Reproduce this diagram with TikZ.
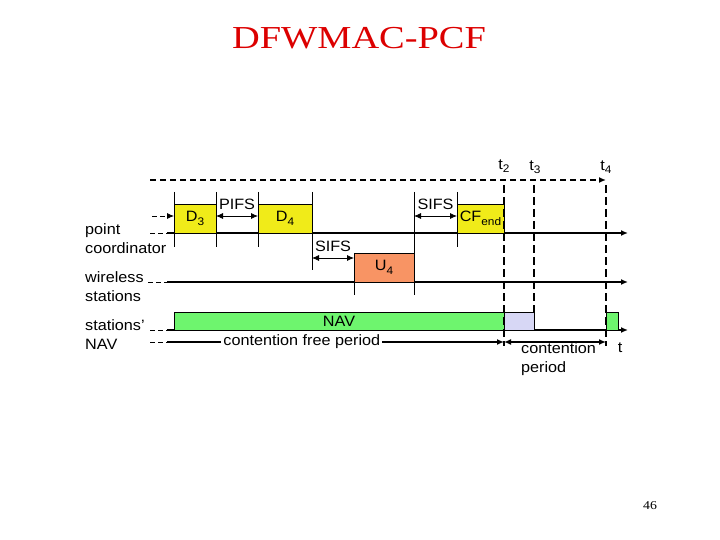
\documentclass[tikz,border=0pt]{standalone}
\usepackage{fontspec}
\setmainfont{Liberation Sans}[FakeStretch=1.08]
\newfontfamily\titlefont{Liberation Serif}[FakeStretch=1.2]
\newfontfamily\pagefont{Liberation Serif}[FakeStretch=1.15]
\usetikzlibrary{arrows.meta}
\definecolor{pcyellow}{RGB}{240,235,25}
\definecolor{pcorange}{RGB}{248,148,100}
\definecolor{pcgreen}{RGB}{110,245,110}
\definecolor{pclav}{RGB}{215,215,245}
\definecolor{pcred}{RGB}{220,0,0}
\newcommand\lowsub[1]{\raisebox{-3.5bp}{\fontsize{11bp}{11bp}\selectfont #1}}
\tikzset{
  timeline/.style={line width=1.8bp},
  tick/.style={line width=0.8bp},
  leader/.style={line width=0.8bp, dash pattern=on 5bp off 3bp},
  instant/.style={line width=1.8bp, dash pattern=on 8bp off 4bp},
  topline/.style={line width=1.6bp, dash pattern=on 6bp off 4bp},
  frame/.style={draw, line width=0.8bp, inner sep=0pt},
  gap/.style={above=6bp, inner sep=0pt}
}
\begin{document}
\begin{tikzpicture}[x=1bp, y=-1bp, >={Latex[length=7bp,width=6bp]},
    font=\fontsize{15bp}{19bp}\selectfont]
  \useasboundingbox (0,0) rectangle (720,540);
  % title and page number
  \node[text=pcred, font=\titlefont\fontsize{32bp}{38bp}\selectfont] (title) at (359,38) {DFWMAC-PCF};
  \node[font=\pagefont\fontsize{12bp}{14bp}\selectfont] (page) at (650,506) {46};

  % row labels
  \node[anchor=west, align=left, inner sep=0pt] (pclbl) at (85,239) {point\\coordinator};
  \node[anchor=west, align=left, inner sep=0pt] (wslbl) at (85,286.5) {wireless\\stations};
  \node[anchor=west, align=left, inner sep=0pt] (navlbl) at (85,335) {stations'\\NAV};

  % time line ends
  \coordinate (topS) at (150,180);
  \coordinate (pcL) at (150,233);
  \coordinate (pcS) at (167,233);
  \coordinate (pcE) at (628,233);
  \coordinate (inL) at (152,216);
  \coordinate (inR) at (174,216);
  \coordinate (wsL) at (148,282);
  \coordinate (wsS) at (167,282);
  \coordinate (wsE) at (628,282);
  \coordinate (navL) at (150,330);
  \coordinate (navS) at (167,330);
  \coordinate (navE) at (628,330);
  \coordinate (cfL) at (150,342);
  \coordinate (cfS) at (167,342);

  % instants t2, t3, t4
  \coordinate (t2top) at (504,185);
  \coordinate (t2bot) at (504,346);
  \coordinate (t3top) at (534,185);
  \coordinate (t3bot) at (534,312);
  \coordinate (t4top) at (606,185);
  \coordinate (t4bot) at (606,346);
  \coordinate (t2cf) at (504,342);
  \coordinate (t4cf) at (606,342);
  \coordinate (t4arr) at (606,180);
  \node (t2) at (504,166) {t\lowsub{2}};
  \node (t3) at (535,167) {t\lowsub{3}};
  \node (t4) at (606,167) {t\lowsub{4}};

  \draw[topline, ->] (topS) -- (t4arr);
  \draw[leader] (pcL) -- (pcS);
  \draw[leader, ->] (inL) -- (inR);
  \draw[leader] (wsL) -- (wsS);
  \draw[leader] (navL) -- (navS);
  \draw[leader] (cfL) -- (cfS);
  \draw[timeline, ->] (pcS) -- (pcE);
  \draw[timeline, ->] (wsS) -- (wsE);
  \draw[timeline, ->] (navS) -- (navE);

  % frames
  \node[frame, fill=pcyellow, minimum width=42bp, minimum height=29bp] (d3) at (195,218.5) {D\lowsub{3}};
  \node[frame, fill=pcyellow, minimum width=54bp, minimum height=29bp] (d4) at (285,218.5) {D\lowsub{4}};
  \node[frame, fill=pcyellow, minimum width=47bp, minimum height=29bp] (cfend) at (480.5,218.5) {CF\lowsub{end}};
  \node[frame, fill=pcorange, minimum width=60bp, minimum height=29bp] (u4) at (384,267.5) {U\lowsub{4}};
  \node[frame, fill=pcgreen, minimum width=330bp, minimum height=18bp] (nav) at (339,321) {NAV};
  \node[frame, fill=pclav, minimum width=30bp, minimum height=18bp] (cp) at (519,321) {};
  \node[frame, fill=pcgreen, minimum width=12bp, minimum height=18bp] (nav2) at (612,321) {};

  % ticks
  \draw[tick] (174,192) -- (174,247);
  \draw[tick] (216,192) -- (216,247);
  \draw[tick] (258,192) -- (258,247);
  \draw[tick] (312,192) -- (312,270);
  \draw[tick] (354,253) -- (354,295);
  \draw[tick] (414,192) -- (414,295);
  \draw[tick] (457,192) -- (457,247);

  \draw[instant] (t2top) -- (t2bot);
  \draw[instant] (t3top) -- (t3bot);
  \draw[instant] (t4top) -- (t4bot);

  % spacings
  \coordinate (pifsL) at (216,216);
  \coordinate (pifsR) at (258,216);
  \coordinate (sifsaL) at (312,258);
  \coordinate (sifsaR) at (354,258);
  \coordinate (sifsbL) at (414,216);
  \coordinate (sifsbR) at (457,216);
  \draw[tick, <->] (pifsL) -- node[gap] {PIFS} (pifsR);
  \draw[tick, <->] (sifsaL) -- node[gap] {SIFS} (sifsaR);
  \draw[tick, <->] (sifsbL) -- node[gap] {SIFS} (sifsbR);

  % periods
  \draw[timeline, ->] (cfS) -- node[pos=0.4, fill=white, inner xsep=2bp, inner ysep=0pt] {contention free period} (t2cf);
  \draw[timeline, <->] (t2cf) -- (t4cf);
  \node[anchor=west, align=left, inner sep=0pt] (cplbl) at (521,359) {contention\\period};
  \node (tlbl) at (620,348) {t};
\end{tikzpicture}
\end{document}
